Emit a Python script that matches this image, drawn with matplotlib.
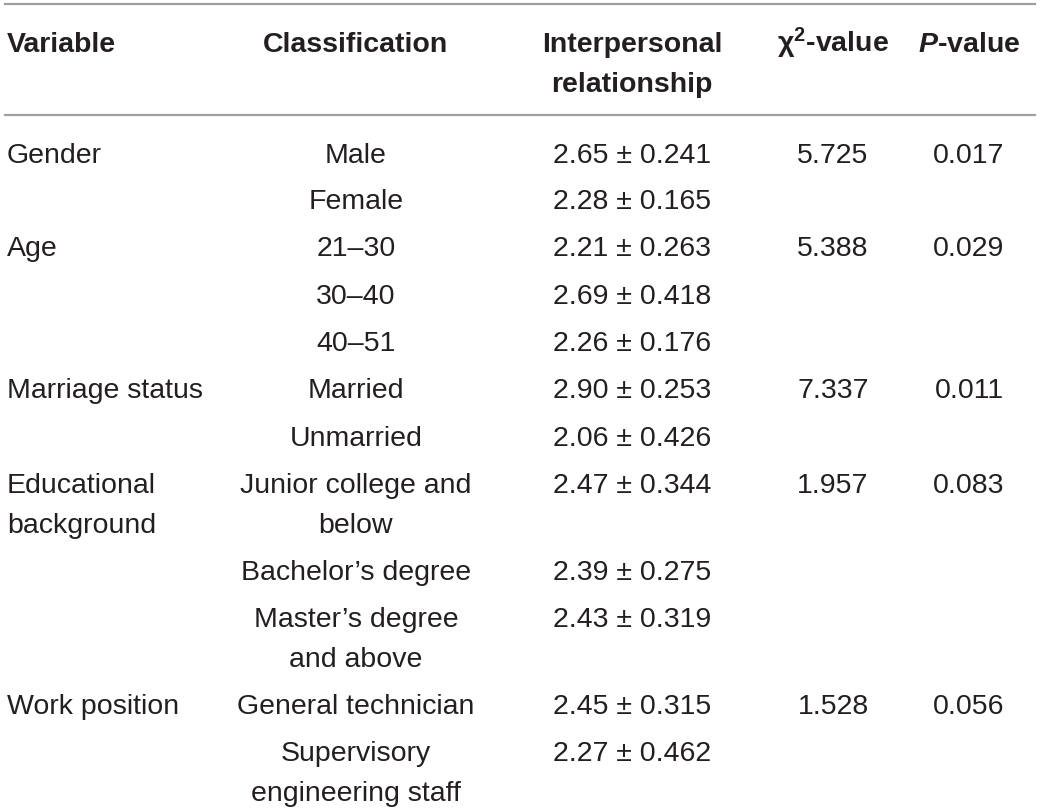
import matplotlib
matplotlib.use("Agg")
import matplotlib.pyplot as plt

plt.rcParams['font.family'] = ['Liberation Sans', 'DejaVu Sans']
plt.rcParams['mathtext.fontset'] = 'custom'
plt.rcParams['mathtext.rm'] = 'Liberation Sans:bold'
plt.rcParams['mathtext.bf'] = 'Liberation Sans:bold'
plt.rcParams['mathtext.it'] = 'Liberation Sans:italic:bold'

# table content
headers = ["Variable", "Classification", "Interpersonal\nrelationship",
           r"χ$^{\mathbf{2}}$-value", r"$\mathit{P}$-value"]
variables = ["Gender", "", "Age", "", "", "Marriage status", "",
             "Educational\nbackground", "", "", "Work position", ""]
classes = ["Male", "Female", "21–30", "30–40", "40–51", "Married", "Unmarried",
           "Junior college and\nbelow", "Bachelor’s degree",
           "Master’s degree\nand above", "General technician",
           "Supervisory\nengineering staff"]
means = [2.65, 2.28, 2.21, 2.69, 2.26, 2.90, 2.06, 2.47, 2.39, 2.43, 2.45, 2.27]
sds = [0.241, 0.165, 0.263, 0.418, 0.176, 0.253, 0.426, 0.344, 0.275, 0.319,
       0.315, 0.462]
chi2 = ["5.725", "", "5.388", "", "", "7.337", "", "1.957", "", "", "1.528", ""]
pvals = ["0.017", "", "0.029", "", "", "0.011", "", "0.083", "", "", "0.056", ""]

W, H = 1040, 812
fig = plt.figure(figsize=(W / 100, H / 100), dpi=100)
fig.patch.set_facecolor('white')

txt_color = '#231f20'
fs = 20.5
line_h = 40


def put(x, y, s, ha='left', **kw):
    # one text per line, y is the baseline of the first line in pixels
    for k, part in enumerate(s.split('\n')):
        fig.text(x / W, 1 - (y + k * line_h) / H, part, ha=ha, va='baseline',
                 fontsize=fs, color=txt_color, **kw)


# rules
for y in (5, 116):
    fig.add_artist(plt.Line2D([5 / W, 1035 / W], [1 - y / H, 1 - y / H],
                              color='#a0a0a0', lw=1.6))

col_x = [7, 356, 632, 833, 969]
aligns = ['left', 'center', 'center', 'center', 'center']

# header
for x, a, h in zip(col_x, aligns, headers):
    put(x, 52, h, ha=a, fontweight='bold')

# body rows: baseline of each row
row_base = [163, 209, 256, 304, 351, 398, 446, 493, 580, 627, 714, 761]
for i, yb in enumerate(row_base):
    put(col_x[0], yb, variables[i])
    put(col_x[1], yb, classes[i], ha='center')
    put(col_x[2], yb, f"{means[i]:.2f} ± {sds[i]:.3f}", ha='center')
    put(col_x[3], yb, chi2[i], ha='center')
    put(col_x[4], yb, pvals[i], ha='center')

fig.savefig("out.png", dpi=100)
